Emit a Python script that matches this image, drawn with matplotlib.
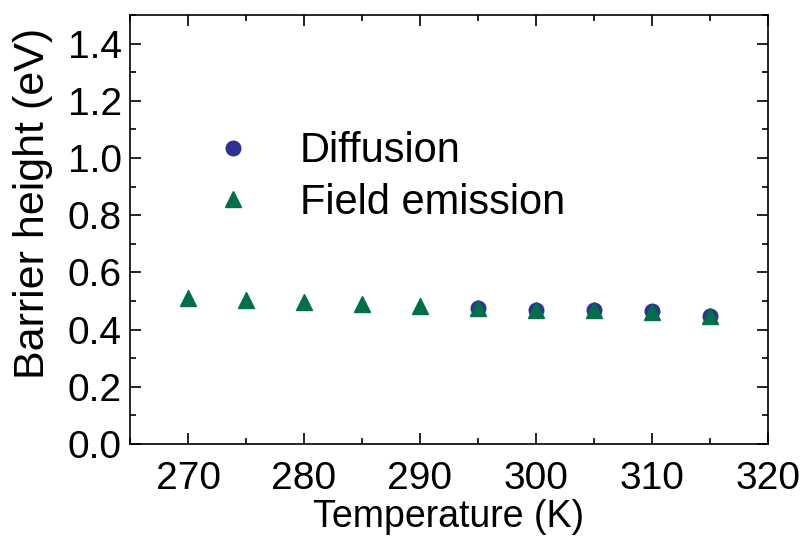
import matplotlib
matplotlib.use("Agg")
import matplotlib.pyplot as plt
from matplotlib.ticker import MultipleLocator

plt.rcParams['font.family'] = ['Liberation Sans', 'DejaVu Sans']

temp_diffusion = [295, 300, 305, 310, 315]
barrier_diffusion = [0.477, 0.467, 0.468, 0.465, 0.449]

temp_field = [270, 275, 280, 285, 290, 295, 300, 305, 310, 315]
barrier_field = [0.510, 0.504, 0.496, 0.488, 0.484, 0.477, 0.469, 0.469, 0.460, 0.449]

x_ticks = [270, 280, 290, 300, 310, 320]
y_ticks = [0.0, 0.2, 0.4, 0.6, 0.8, 1.0, 1.2, 1.4]

fig = plt.figure(figsize=(8.05, 5.43), dpi=100)
ax = fig.add_axes([0.1615, 0.1823, 0.7925, 0.790])

ax.plot(temp_diffusion, barrier_diffusion, 'o', color='#2E3192', ms=10.5,
        label='Diffusion', linestyle='none')
ax.plot(temp_field, barrier_field, '^', color='#00704A', ms=11.5,
        label='Field emission', linestyle='none')

ax.set_xlim(265, 320)
ax.set_ylim(0, 1.5)
ax.set_xticks(x_ticks)
ax.set_yticks(y_ticks)
ax.set_yticklabels([f'{v:.1f}' for v in y_ticks])
ax.xaxis.set_minor_locator(MultipleLocator(5))
ax.yaxis.set_minor_locator(MultipleLocator(0.1))

ax.tick_params(which='both', direction='in', top=True, right=True, width=1.2)
ax.tick_params(which='major', length=8)
ax.tick_params(which='minor', length=4)
ax.tick_params(axis='y', labelsize=28, pad=6)
ax.tick_params(axis='x', labelsize=28, pad=12)
for s in ax.spines.values():
    s.set_linewidth(1.2)

ax.set_xlabel('Temperature (K)', fontsize=27, labelpad=2)
ax.set_ylabel('Barrier height (eV)', fontsize=31)
ax.yaxis.set_label_coords(-0.12, 0.56)

ax.legend(loc='upper left', bbox_to_anchor=(0.122, 0.729), frameon=False,
          fontsize=30, markerscale=1.0, handlelength=1.2, handletextpad=1.0,
          labelspacing=0.28, borderpad=0, borderaxespad=0)

fig.savefig('out.png', dpi=100)
